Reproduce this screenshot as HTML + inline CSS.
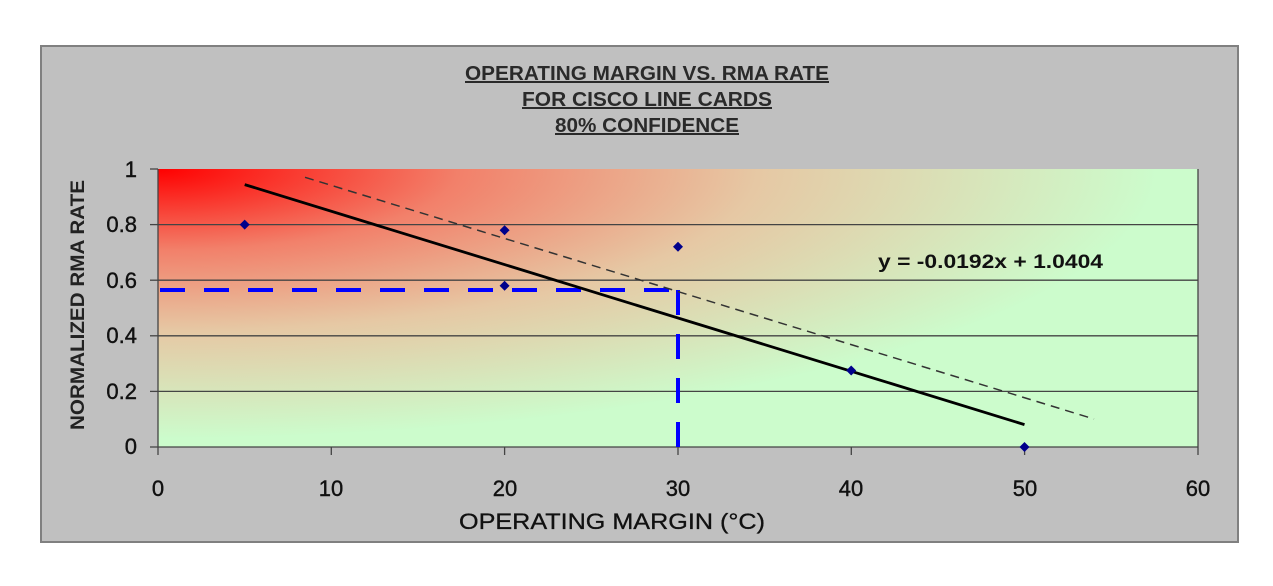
<!DOCTYPE html>
<html><head><meta charset="utf-8"><style>
html,body{margin:0;padding:0;background:#fff;}
svg{display:block;font-family:"Liberation Sans",Arial,sans-serif;}
</style></head><body>
<svg width="1273" height="586" viewBox="0 0 1273 586" xmlns="http://www.w3.org/2000/svg">
<defs>
<radialGradient id="g" cx="158" cy="169" r="1000" gradientUnits="userSpaceOnUse" gradientTransform="translate(158 169) scale(1 0.27) translate(-158 -169)">
<stop offset="0" stop-color="#ff0000"/>
<stop offset="0.3" stop-color="#f2806a"/>
<stop offset="0.6" stop-color="#e6c8a4"/>
<stop offset="1" stop-color="#ccfccc"/>
</radialGradient>
</defs>
<rect x="0" y="0" width="1273" height="586" fill="#fff"/>
<rect x="41" y="46" width="1197" height="496" fill="#c0c0c0" stroke="#808080" stroke-width="2"/>
<g font-weight="bold" font-size="20" fill="#2a2a2a" text-anchor="middle" text-decoration="underline">
<text x="647" y="80" textLength="364" lengthAdjust="spacingAndGlyphs">OPERATING MARGIN VS. RMA RATE</text>
<text x="647" y="106" textLength="250" lengthAdjust="spacingAndGlyphs">FOR CISCO LINE CARDS</text>
<text x="647" y="132" textLength="184" lengthAdjust="spacingAndGlyphs">80% CONFIDENCE</text>
</g>
<rect x="158" y="169" width="1040" height="278" fill="#ccfccc"/>
<rect x="158" y="169" width="1040" height="278" fill="url(#g)"/>
<g stroke="#444" stroke-width="1.3">
<line x1="158" y1="224.6" x2="1198" y2="224.6"/>
<line x1="158" y1="280.2" x2="1198" y2="280.2"/>
<line x1="158" y1="335.8" x2="1198" y2="335.8"/>
<line x1="158" y1="391.4" x2="1198" y2="391.4"/>
<line x1="158" y1="447" x2="1198" y2="447"/>
<line x1="158" y1="169" x2="158" y2="447"/>
<line x1="1198" y1="169" x2="1198" y2="447"/>
<line x1="150" y1="169" x2="158" y2="169"/>
<line x1="150" y1="224.6" x2="158" y2="224.6"/>
<line x1="150" y1="280.2" x2="158" y2="280.2"/>
<line x1="150" y1="335.8" x2="158" y2="335.8"/>
<line x1="150" y1="391.4" x2="158" y2="391.4"/>
<line x1="150" y1="447" x2="158" y2="447"/>
<line x1="331.3" y1="447" x2="331.3" y2="455"/>
<line x1="504.6" y1="447" x2="504.6" y2="455"/>
<line x1="678" y1="447" x2="678" y2="455"/>
<line x1="851.3" y1="447" x2="851.3" y2="455"/>
<line x1="1024.6" y1="447" x2="1024.6" y2="455"/>
<line x1="1198" y1="447" x2="1198" y2="455"/>
<line x1="158" y1="447" x2="158" y2="455"/>
</g>
<g font-size="22" fill="#111" text-anchor="end" stroke="#111" stroke-width="0.4">
<text x="137" y="177">1</text>
<text x="137" y="232">0.8</text>
<text x="137" y="288">0.6</text>
<text x="137" y="343">0.4</text>
<text x="137" y="399">0.2</text>
<text x="137" y="454">0</text>
</g>
<g font-size="22" fill="#111" text-anchor="middle" stroke="#111" stroke-width="0.4">
<text x="158" y="496">0</text>
<text x="331" y="496">10</text>
<text x="505" y="496">20</text>
<text x="678" y="496">30</text>
<text x="851" y="496">40</text>
<text x="1025" y="496">50</text>
<text x="1198" y="496">60</text>
</g>
<text x="612" y="529" font-size="22" fill="#111" text-anchor="middle" stroke="#111" stroke-width="0.3" textLength="306" lengthAdjust="spacingAndGlyphs">OPERATING MARGIN (°C)</text>
<text transform="translate(84 305) rotate(-90)" font-size="19" font-weight="bold" fill="#222" text-anchor="middle" textLength="250" lengthAdjust="spacingAndGlyphs">NORMALIZED RMA RATE</text>
<text x="878" y="268" font-size="19" font-weight="bold" fill="#111" textLength="225" lengthAdjust="spacingAndGlyphs">y = -0.0192x + 1.0404</text>
<line x1="160" y1="290" x2="678" y2="290" stroke="#0000ff" stroke-width="4" stroke-dasharray="25 19"/>
<line x1="678" y1="290" x2="678" y2="447" stroke="#0000ff" stroke-width="4" stroke-dasharray="25 19"/>
<line x1="305" y1="177.3" x2="1094" y2="419" stroke="#333" stroke-width="1.5" stroke-dasharray="9 6"/>
<line x1="244.7" y1="184.6" x2="1024.5" y2="424.6" stroke="#000" stroke-width="2.8"/>
<g fill="#00008b">
<path d="M244.7 219.6l5 5-5 5-5-5z"/>
<path d="M504.6 225.2l5 5-5 5-5-5z"/>
<path d="M504.6 280.8l5 5-5 5-5-5z"/>
<path d="M678 241.8l5 5-5 5-5-5z"/>
<path d="M851.2 365.5l5 5-5 5-5-5z"/>
<path d="M1024.5 442l5 5-5 5-5-5z"/>
</g>
</svg>
</body></html>
